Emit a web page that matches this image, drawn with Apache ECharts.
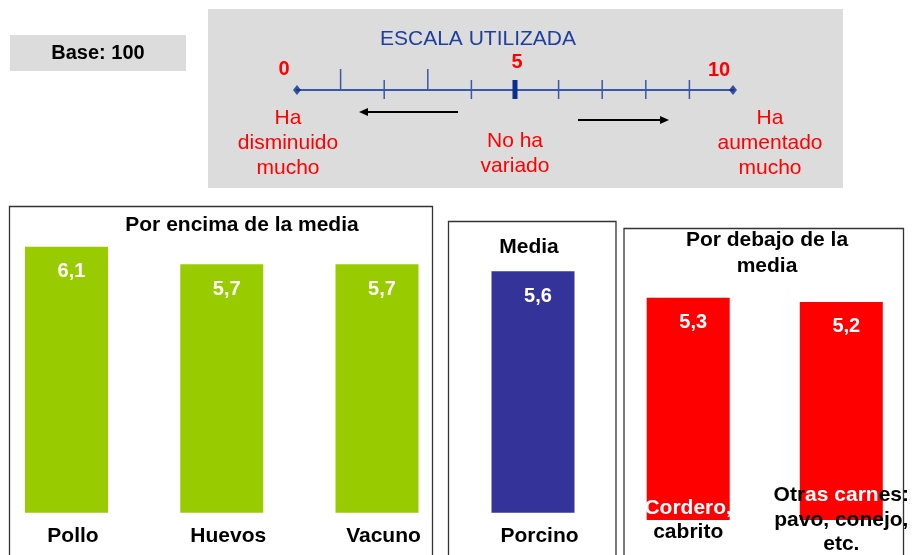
<!DOCTYPE html>
<html><head><meta charset="utf-8">
<script src="https://cdn.jsdelivr.net/npm/echarts@6/dist/echarts.min.js"></script>
<style>html,body{margin:0;padding:0;background:#fff}#c{width:912px;height:555px}</style>
</head><body><div id="c"></div>
<script>
// ---- data ----
const catsAbove = ['Pollo', 'Huevos', 'Vacuno'];
const valsAbove = [6.1, 5.7, 5.7];
const catsMedia = ['Porcino'];
const valsMedia = [5.6];
const catsBelow = ['Cordero,\ncabrito', 'Otras carnes:\npavo, conejo,\netc.'];
const valsBelow = [5.3, 5.2];
const scaleTicks = [1, 2, 3, 4, 5, 6, 7, 8, 9];
const scaleEnds = [0, 10];
const scaleEndLabels = ['0', '5', '10'];

const FONT = 'Liberation Sans, Arial, sans-serif';
const chart = echarts.init(document.getElementById('c'), null, { renderer: 'canvas' });
const fmtVal = p => p.value.toFixed(1).replace('.', ',');

function barSeries(vals, idx, color) {
  return {
    type: 'bar', xAxisIndex: idx, yAxisIndex: idx, data: vals, barWidth: 83,
    itemStyle: { color: color },
    label: { show: true, position: 'insideTop', distance: 15, offset: [5, 0], color: '#fff',
      fontWeight: 'bold', fontSize: 20, fontFamily: FONT, formatter: fmtVal },
    silent: true, animation: false
  };
}
const catLabel = {
  color: '#000', fontWeight: 'bold', fontSize: 21, fontFamily: FONT,
  verticalAlign: 'middle', margin: 24, padding: [0, 0, 0, 13]
};
const hiddenY = (idx) => ({ type: 'value', gridIndex: idx, min: 0, max: 7, show: false });

function t(text, x, y, opts) {
  return { type: 'text', x: x, y: y, z: 5, style: Object.assign({ text: text, align: 'center', verticalAlign: 'middle', fontFamily: FONT, fontSize: 21, fill: '#000' }, opts || {}) };
}

const option = {
  animation: false,
  textStyle: { fontFamily: FONT },
  grid: [
    { left: 66.5, width: 310.5, top: 207.5, bottom: 42.3 },
    { left: 491.3, width: 83.4, top: 211, bottom: 42.3 },
    { left: 688.2, width: 155, top: 226.5, bottom: 31.7 },
    { left: 297, right: 179, top: 60, bottom: 465 }
  ],
  xAxis: [
    { type: 'category', gridIndex: 0, data: catsAbove, boundaryGap: false,
      axisLine: { show: false }, axisTick: { show: false }, axisLabel: catLabel },
    { type: 'category', gridIndex: 1, data: catsMedia, boundaryGap: true,
      axisLine: { show: false }, axisTick: { show: false }, axisLabel: catLabel },
    { type: 'category', gridIndex: 2, data: catsBelow, boundaryGap: false, z: 10,
      axisLine: { show: false }, axisTick: { show: false },
      axisLabel: {
        margin: 0, verticalAlign: 'middle', interval: 0,
        formatter: function (val, i) {
          const lines = val.split('\n');
          const first = lines[0];
          const range = i === 0 ? [0, first.length] : [3, 10];
          let s = '';
          if (range[0] > 0) s += '{k|' + first.slice(0, range[0]) + '}';
          s += '{w|' + first.slice(range[0], range[1]) + '}';
          if (range[1] < first.length) s += '{k|' + first.slice(range[1]) + '}';
          for (let j = 1; j < lines.length; j++) s += '\n{k|' + lines[j] + '}';
          return s;
        },
        rich: {
          k: { color: '#000', fontWeight: 'bold', fontSize: 21, fontFamily: FONT, lineHeight: 24.5 },
          w: { color: '#fff', fontWeight: 'bold', fontSize: 21, fontFamily: FONT, lineHeight: 24.5 }
        }
      } },
    { type: 'value', gridIndex: 3, min: 0, max: 10, interval: 1,
      axisLine: { show: true, onZero: false, lineStyle: { color: '#3a58a8', width: 2 } },
      axisTick: { show: false }, axisLabel: { show: false }, splitLine: { show: false } }
  ],
  yAxis: [hiddenY(0), hiddenY(1), hiddenY(2),
    { type: 'value', gridIndex: 3, min: 0, max: 1, show: false }],
  series: [
    barSeries(valsAbove, 0, '#99cc00'),
    barSeries(valsMedia, 1, '#333399'),
    barSeries(valsBelow, 2, '#ff0000'),
    {
      type: 'custom', xAxisIndex: 3, yAxisIndex: 3, clip: false, silent: true,
      data: scaleTicks.map(v => [v, 0]),
      renderItem: function (params, api) {
        const v = api.value(0);
        const p = api.coord([v, 0]);
        if (v === 5) {
          return { type: 'rect', shape: { x: p[0] - 2.5, y: p[1] - 10, width: 5, height: 19 }, style: { fill: '#0b2d8c' } };
        }
        const up = (v === 1 || v === 3);
        return { type: 'line', shape: { x1: p[0], y1: up ? p[1] - 21 : p[1] - 10, x2: p[0], y2: up ? p[1] : p[1] + 9 },
          style: { stroke: '#3a58a8', lineWidth: 1.5 } };
      }
    },
    {
      type: 'scatter', xAxisIndex: 3, yAxisIndex: 3, silent: true, symbol: 'diamond', symbolSize: [8, 10],
      itemStyle: { color: '#0b2d8c' }, data: scaleEnds.map(v => [v, 0]), clip: false
    }
  ],
  graphic: [
    { type: 'rect', z: -10, shape: { x: 10, y: 35, width: 176, height: 36 }, style: { fill: '#dcdcdc' } },
    { type: 'rect', z: -10, shape: { x: 208, y: 9, width: 635, height: 179 }, style: { fill: '#dcdcdc' } },
    t('Base: 100', 98, 53, { fontWeight: 'bold', fontSize: 20 }),
    t('ESCALA UTILIZADA', 478, 39, { fill: '#1f3f9c' }),
    t(scaleEndLabels[0], 284, 69, { fill: '#ff0000', fontWeight: 'bold', fontSize: 20 }),
    t(scaleEndLabels[1], 517, 62, { fill: '#ff0000', fontWeight: 'bold', fontSize: 20 }),
    t(scaleEndLabels[2], 719, 70, { fill: '#ff0000', fontWeight: 'bold', fontSize: 20 }),
    t('Ha\ndisminuido\nmucho', 288, 143, { fill: '#ff0000', lineHeight: 25 }),
    t('No ha\nvariado', 515, 153.5, { fill: '#ff0000', lineHeight: 25 }),
    t('Ha\naumentado\nmucho', 770, 143, { fill: '#ff0000', lineHeight: 25 }),
    { type: 'line', shape: { x1: 458, y1: 112, x2: 366, y2: 112 }, style: { stroke: '#000', lineWidth: 2 } },
    { type: 'polygon', shape: { points: [[359, 112], [368, 108], [368, 116]] }, style: { fill: '#000' } },
    { type: 'line', shape: { x1: 578, y1: 120, x2: 662, y2: 120 }, style: { stroke: '#000', lineWidth: 2 } },
    { type: 'polygon', shape: { points: [[669, 120], [660, 116], [660, 124]] }, style: { fill: '#000' } },
    { type: 'rect', shape: { x: 9.5, y: 206.5, width: 423, height: 400 }, style: { fill: 'none', stroke: '#333', lineWidth: 1.3 } },
    { type: 'rect', shape: { x: 448.5, y: 221.5, width: 167.5, height: 400 }, style: { fill: 'none', stroke: '#333', lineWidth: 1.3 } },
    { type: 'rect', shape: { x: 624, y: 228.5, width: 279.5, height: 400 }, style: { fill: 'none', stroke: '#333', lineWidth: 1.3 } },
    t('Por encima de la media', 242, 225, { fontWeight: 'bold' }),
    t('Media', 529, 247, { fontWeight: 'bold' }),
    t('Por debajo de la\nmedia', 767, 253, { fontWeight: 'bold', lineHeight: 26 })
  ]
};
chart.setOption(option);
</script></body></html>
